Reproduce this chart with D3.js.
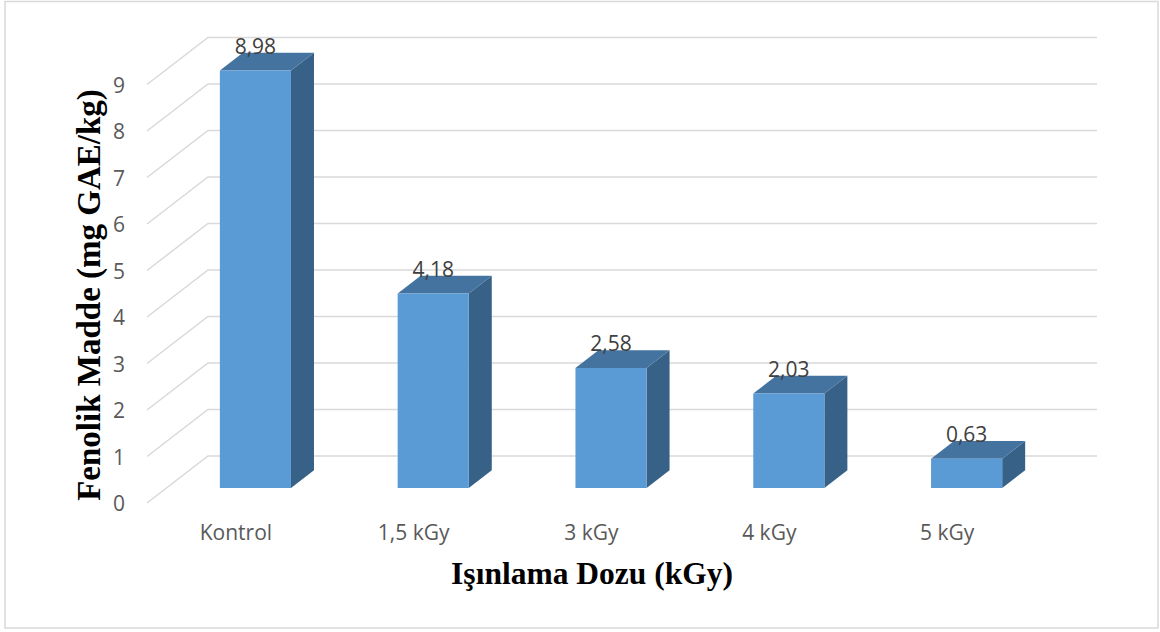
<!DOCTYPE html>
<html>
<head>
<meta charset="utf-8">
<script src="https://cdn.jsdelivr.net/npm/d3@7"></script>
<style>
  html, body { margin: 0; padding: 0; background: #ffffff; }
  svg { display: block; }
</style>
</head>
<body>
<svg id="chart" width="1160" height="632"></svg>
<script>
// Total phenolic content by irradiation dose
const categories = ["Kontrol", "1,5 kGy", "3 kGy", "4 kGy", "5 kGy"];
const values = [8.98, 4.18, 2.58, 2.03, 0.63];
const valueLabels = ["8,98", "4,18", "2,58", "2,03", "0,63"];
const yTicks = [0, 1, 2, 3, 4, 5, 6, 7, 8, 9];
const yTitle = "Fenolik Madde (mg GAE/kg)";
const xTitle = "Işınlama Dozu (kGy)";

const svg = d3.select("#chart");

// Frame around the chart area
svg.append("rect")
  .attr("x", 5).attr("y", 1.5)
  .attr("width", 1153).attr("height", 626.5)
  .attr("fill", "none")
  .attr("stroke", "#d9d9d9")
  .attr("stroke-width", 1.5);

// 3D box: front-left corner of the floor, and the depth offset to the back wall
const origin = { x: 147, y: 503 };
const depth = { dx: 61, dy: -47 };
const plotW = 889;

const x = d3.scaleBand()
  .domain(categories)
  .range([0, plotW])
  .paddingInner(0.6)
  .paddingOuter(0.3);

const y = d3.scaleLinear()
  .domain([0, 9])
  .range([0, 418.5]);

// project (horizontal offset, value, depth fraction) to screen
function proj(px, v, d) {
  return [origin.x + px + d * depth.dx, origin.y - y(v) + d * depth.dy];
}

const grid = svg.append("g").attr("stroke", "#d9d9d9").attr("stroke-width", 1.5).attr("fill", "none");

// Side wall diagonals and back wall gridlines
yTicks.forEach(v => {
  const a = proj(0, v, 0), b = proj(0, v, 1), c = proj(plotW, v, 1);
  grid.append("path").attr("d", `M${a[0]},${a[1]}L${b[0]},${b[1]}L${c[0]},${c[1]}`);
});

// Y tick labels at the front edge
svg.append("g").selectAll("text")
  .data(yTicks)
  .join("text")
  .attr("x", origin.x - 22)
  .attr("y", v => proj(0, v, 0)[1])
  .attr("text-anchor", "end")
  .attr("dominant-baseline", "central")
  .attr("font-family", "'Open Sans', sans-serif")
  .attr("font-size", 21)
  .attr("fill", "#595959")
  .text(v => v);

// Bars: front, top and right-side faces
const d0 = 0.32, d1 = 0.697;
const colors = { front: "#5b9bd5", top: "#4473a0", side: "#386188" };

const bars = svg.append("g").selectAll("g")
  .data(categories.map((c, i) => ({ c, v: values[i], label: valueLabels[i] })))
  .join("g");

function poly(pts) { return "M" + pts.map(p => p.join(",")).join("L") + "Z"; }

bars.append("path") // side
  .attr("fill", colors.side)
  .attr("d", d => {
    const xr = x(d.c) + x.bandwidth();
    return poly([proj(xr, 0, d0), proj(xr, 0, d1), proj(xr, d.v, d1), proj(xr, d.v, d0)]);
  });

bars.append("path") // top
  .attr("fill", colors.top)
  .attr("d", d => {
    const xl = x(d.c), xr = xl + x.bandwidth();
    return poly([proj(xl, d.v, d0), proj(xr, d.v, d0), proj(xr, d.v, d1), proj(xl, d.v, d1)]);
  });

bars.append("path") // front
  .attr("fill", colors.front)
  .attr("d", d => {
    const xl = x(d.c), xr = xl + x.bandwidth();
    return poly([proj(xl, 0, d0), proj(xr, 0, d0), proj(xr, d.v, d0), proj(xl, d.v, d0)]);
  });

// Value labels above the bars
bars.append("text")
  .attr("x", d => proj(x(d.c) + x.bandwidth() / 2, d.v, d0)[0])
  .attr("y", d => proj(0, d.v, d1)[1] + 1)
  .attr("text-anchor", "middle")
  .attr("font-family", "'Open Sans', sans-serif")
  .attr("font-size", 21)
  .attr("fill", "#404040")
  .text(d => d.label);

// Category labels along the front edge
svg.append("g").selectAll("text")
  .data(categories)
  .join("text")
  .attr("x", c => proj(x(c) + x.bandwidth() / 2, 0, 0)[0])
  .attr("y", 540)
  .attr("text-anchor", "middle")
  .attr("font-family", "'Open Sans', sans-serif")
  .attr("font-size", 21)
  .attr("fill", "#595959")
  .text(c => c);

// Axis titles
svg.append("text")
  .attr("x", 592)
  .attr("y", 584)
  .attr("text-anchor", "middle")
  .attr("font-family", "'Liberation Serif', 'Times New Roman', serif")
  .attr("font-weight", "bold")
  .attr("font-size", 31.5)
  .attr("fill", "#000000")
  .text(xTitle);

svg.append("text")
  .attr("transform", "translate(100,295) rotate(-90)")
  .attr("text-anchor", "middle")
  .attr("font-family", "'Liberation Serif', 'Times New Roman', serif")
  .attr("font-weight", "bold")
  .attr("font-size", 33)
  .attr("fill", "#000000")
  .text(yTitle);
</script>
</body>
</html>
